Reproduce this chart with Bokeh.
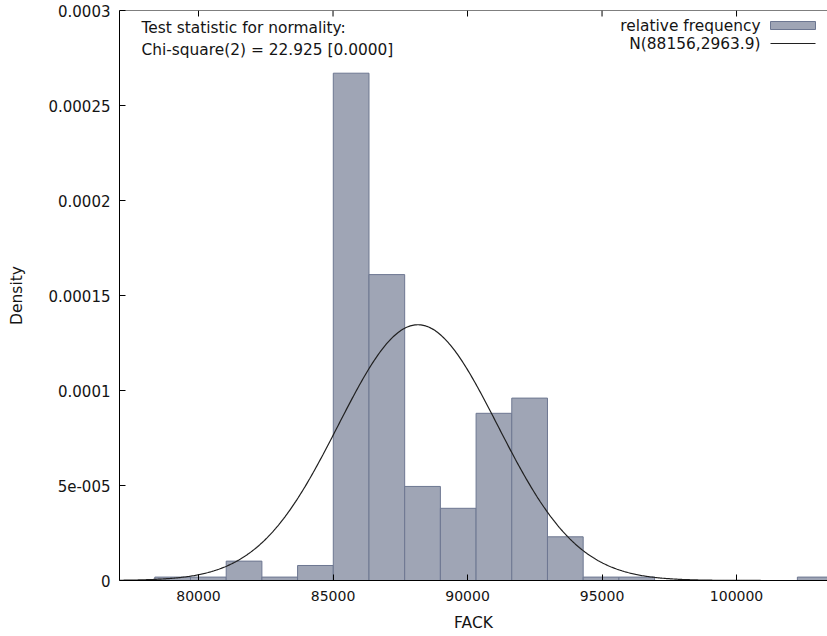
import numpy as np
from bokeh.plotting import figure
from bokeh.models import (Range1d, LinearAxis, FixedTicker, CustomJSTickFormatter,
                          Label, BoxAnnotation, PolyAnnotation, ColumnDataSource, Span)
from bokeh.embed import file_html
from bokeh.resources import INLINE

# ---- data ----
bin_edges = [78375, 79702, 81029, 82356, 83683, 85010, 86337, 87664, 88991, 90318,
             91645, 92972, 94299, 95626, 96953, 98280, 99607, 100934, 102261, 103588]
density = [1.8e-6, 1.8e-6, 1.02e-5, 1.8e-6, 7.9e-6, 2.67e-4, 1.61e-4, 4.95e-5, 3.8e-5,
           8.8e-5, 9.6e-5, 2.3e-5, 1.8e-6, 1.8e-6, 0.0, 0.0, 0.0, 0.0, 1.8e-6]
normal_mean = 88156.0
normal_sd = 2963.9

x_ticks = [80000, 85000, 90000, 95000, 100000]
x_tick_labels = ["80000", "85000", "90000", "95000", "100000"]
y_ticks = [0.0, 0.00005, 0.0001, 0.00015, 0.0002, 0.00025, 0.0003]
y_tick_labels = ["0", "5e-005", "0.0001", "0.00015", "0.0002", "0.00025", "0.0003"]

x_label = "FACK"
y_label = "Density"
stat_line1 = "Test statistic for normality:"
stat_line2 = "Chi-square(2) = 22.925 [0.0000]"
legend_hist = "relative frequency"
legend_norm = "N(88156,2963.9)"

# ---- styling ----
FONT = "DejaVu Sans"
TXT = "#141414"
BAR_FILL = "#9fa5b5"
BAR_LINE = "#6d7791"
X0, X1 = 77063, 103381
Y0, Y1 = 0.0, 0.0003
FRAME_H = 570
TICK_PX = 6

p = figure(width=827, height=636, output_backend="svg", toolbar_location=None,
           x_range=Range1d(X0, X1), y_range=Range1d(Y0, Y1),
           x_axis_location=None, y_axis_location=None,
           min_border_left=119, min_border_right=0, min_border_top=10,
           min_border_bottom=56)
p.outline_line_color = None
p.grid.visible = False
p.background_fill_color = "white"
p.border_fill_color = "white"

# bars
idx = [i for i in range(len(density)) if density[i] > 0]
src = ColumnDataSource(dict(left=[bin_edges[i] for i in idx],
                            right=[bin_edges[i + 1] for i in idx],
                            top=[density[i] for i in idx],
                            bottom=[0.0] * len(idx)))
p.quad(left="left", right="right", top="top", bottom="bottom", source=src,
       fill_color=BAR_FILL, line_color=BAR_LINE, line_width=1)

# normal density curve N(mean, sd)
xs = np.linspace(X0, X1, 600)
ys = np.exp(-0.5 * ((xs - normal_mean) / normal_sd) ** 2) / (normal_sd * np.sqrt(2 * np.pi))
p.line(xs, ys, line_color="#202020", line_width=1.2)

# top border with inward ticks (mirror of the x axis)
p.add_layout(Span(location=Y1, dimension="width", line_color="black", line_width=1))
tick_len = (Y1 - Y0) * TICK_PX / FRAME_H
p.segment(x0=x_ticks, x1=x_ticks, y0=[Y1] * len(x_ticks),
          y1=[Y1 - tick_len] * len(x_ticks), line_color="black", line_width=1)

def lab_fmt(labels):
    return CustomJSTickFormatter(args=dict(labs=labels), code="return labs[index];")

xb = LinearAxis(ticker=FixedTicker(ticks=x_ticks), formatter=lab_fmt(x_tick_labels),
                axis_label=x_label)
yl = LinearAxis(ticker=FixedTicker(ticks=y_ticks), formatter=lab_fmt(y_tick_labels),
                axis_label=y_label)
for ax in (xb, yl):
    ax.axis_line_color = "black"
    ax.axis_line_width = 1
    ax.major_tick_in = TICK_PX
    ax.major_tick_out = 0
    ax.minor_tick_line_color = None
    ax.major_tick_line_color = "black"
    ax.major_label_text_font = FONT
    ax.major_label_text_color = TXT
    ax.axis_label_text_font = FONT
    ax.axis_label_text_font_size = "15.5px"
    ax.axis_label_text_font_style = "normal"
    ax.axis_label_text_color = TXT
xb.major_label_text_font_size = "14px"
yl.major_label_text_font_size = "15px"
xb.major_label_standoff = 10
xb.axis_label_standoff = 10
yl.major_label_standoff = 9
yl.axis_label_standoff = 19
p.add_layout(xb, "below")
p.add_layout(yl, "left")

# annotation text (screen units relative to the frame)
for txt, yy in ((stat_line1, 553), (stat_line2, 531)):
    p.add_layout(Label(x=22, y=yy, x_units="screen", y_units="screen", text=txt,
                       text_font=FONT, text_font_size="15.4px", text_color=TXT,
                       text_baseline="middle", text_align="left"))

# legend (text then sample, gnuplot style)
for txt, yy in ((legend_hist, 555), (legend_norm, 537)):
    p.add_layout(Label(x=641, y=yy, x_units="screen", y_units="screen", text=txt,
                       text_font=FONT, text_font_size="15.4px", text_color=TXT,
                       text_baseline="middle", text_align="right"))
p.add_layout(BoxAnnotation(left=651, right=696, top=559, bottom=551,
                           left_units="screen", right_units="screen",
                           top_units="screen", bottom_units="screen",
                           fill_color=BAR_FILL, fill_alpha=1, line_color=BAR_LINE,
                           line_width=1, line_alpha=1))
p.add_layout(PolyAnnotation(xs=[651, 696], ys=[537, 537], xs_units="screen",
                            ys_units="screen", fill_alpha=0, line_color="#202020",
                            line_width=1.2, line_alpha=1))

open("out.html", "w").write(file_html(p, INLINE))
